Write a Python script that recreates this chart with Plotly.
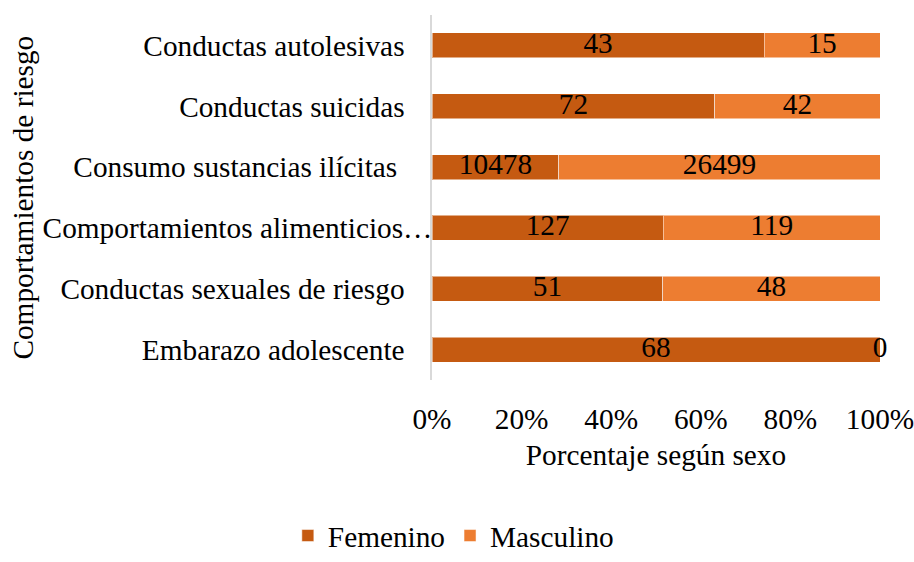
import plotly.graph_objects as go

categorias = ["Conductas autolesivas", "Conductas suicidas", "Consumo sustancias ilícitas ",
              "Comportamientos alimenticios…", "Conductas sexuales de riesgo", "Embarazo adolescente"]
femenino = [43, 72, 10478, 127, 51, 68]
masculino = [15, 42, 26499, 119, 48, 0]
tick_vals = [0, 20, 40, 60, 80, 100]
tick_text = ["0%", "20%", "40%", "60%", "80%", "100%"]

FONT = "Liberation Serif, Times New Roman, serif"
FS = 29.3
C_F = "#C55A11"
C_M = "#ED7D31"

tot = [f + m for f, m in zip(femenino, masculino)]
pf = [100 * f / t for f, t in zip(femenino, tot)]
pm = [100 * m / t for m, t in zip(masculino, tot)]

# truncated label runs up to the axis, the others keep a gap
PAD = "\u2002\u00A0\u2009"
cat_ticktext = [c if c.endswith("…") else c + PAD for c in categorias]

fig = go.Figure()
fig.add_trace(go.Bar(y=categorias, x=pf, orientation="h", name="Femenino",
                     marker=dict(color=C_F, line=dict(color="rgba(255,255,255,0.5)", width=1)),
                     hoverinfo="skip"))
fig.add_trace(go.Bar(y=categorias, x=pm, orientation="h", name="Masculino",
                     marker=dict(color=C_M, line=dict(color="rgba(255,255,255,0.5)", width=1)),
                     hoverinfo="skip"))
# data labels at segment midpoints
fig.add_trace(go.Scatter(y=categorias, x=[p / 2 for p in pf], mode="text",
                         text=[str(v) for v in femenino], showlegend=False, cliponaxis=False,
                         textfont=dict(family=FONT, size=FS, color="black"), hoverinfo="skip"))
fig.add_trace(go.Scatter(y=categorias, x=[a + b / 2 for a, b in zip(pf, pm)], mode="text",
                         text=[str(v) for v in masculino], showlegend=False, cliponaxis=False,
                         textfont=dict(family=FONT, size=FS, color="black"), hoverinfo="skip"))

fig.update_layout(
    width=914, height=562,
    barmode="stack", bargap=0.59,
    plot_bgcolor="white", paper_bgcolor="white",
    margin=dict(l=432, r=34, t=15, b=182),
    font=dict(family=FONT, size=FS, color="#000000"),
    xaxis=dict(range=[0, 100], tickvals=tick_vals, ticktext=tick_text, showgrid=False,
               zeroline=False, showline=False, ticks="", ticklabelstandoff=19, automargin=False,
               ticklabeloverflow="allow",
               tickfont=dict(family=FONT, size=FS, color="black"),
               title=dict(text="Porcentaje según sexo", standoff=10,
                          font=dict(family=FONT, size=FS, color="black"))),
    yaxis=dict(autorange="reversed", showgrid=False, zeroline=False, showline=True, automargin=False,
               linecolor="#D9D9D9", linewidth=1.5, ticks="", ticklabelstandoff=-8,
               tickmode="array", tickvals=categorias, ticktext=cat_ticktext,
               ticklabeloverflow="allow",
               tickfont=dict(family=FONT, size=FS, color="black")),
    legend=dict(orientation="h", x=0.496, xanchor="center", y=0.0, yanchor="bottom",
                xref="container", yref="container", traceorder="normal",
                font=dict(family=FONT, size=FS, color="black"), itemwidth=30),
    annotations=[dict(text="Comportamientos de riesgo", textangle=-90, xref="paper", yref="paper",
                      x=-0.915, y=0.5, xanchor="center", yanchor="middle", showarrow=False,
                      font=dict(family=FONT, size=FS, color="black"))],
)
fig.write_html("out.html", config={"displayModeBar": False},
               post_script="document.body.style.margin='0';")
